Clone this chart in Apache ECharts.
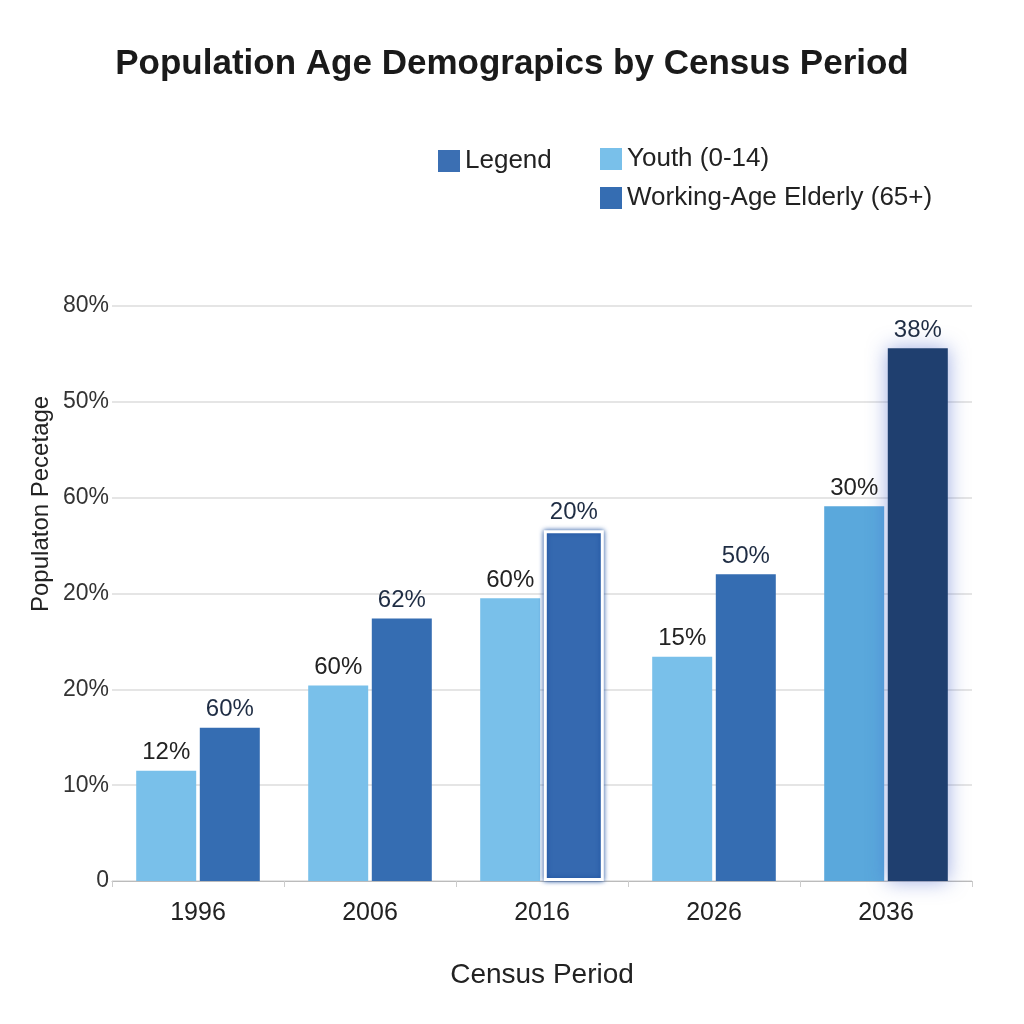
<!DOCTYPE html>
<html><head><meta charset="utf-8">
<script src="https://cdn.jsdelivr.net/npm/echarts@6/dist/echarts.min.js"></script>
<style>html,body{margin:0;padding:0;background:#fff}#c{width:1024px;height:1024px}</style>
</head><body><div id="c"></div>
<script>
// Data (bar heights in axis grid steps; the picture's tick labels are irregular)
const categories = ['1996', '2006', '2016', '2026', '2036'];
const yTickLabels = ['0', '10%', '20%', '20%', '60%', '50%', '80%'];
const youthValues = [1.15, 2.04, 2.95, 2.34, 3.91];
const elderlyValues = [1.60, 2.74, 3.66, 3.20, 5.56];
const youthLabels = ['12%', '60%', '60%', '15%', '30%'];
const elderlyLabels = ['60%', '62%', '20%', '50%', '38%'];

const FONT = '"Liberation Sans", Arial, sans-serif';
const chart = echarts.init(document.getElementById('c'));

const youthData = youthValues.map((v, i) => {
  const d = { value: v };
  if (i === 4) d.itemStyle = { color: '#5aa8dc' };
  return d;
});
const elderlyData = elderlyValues.map((v, i) => {
  const d = { value: v };
  if (i === 2) d.itemStyle = { color: '#3569b0', borderColor: '#ffffff', borderWidth: 3, shadowColor: '#1d4f9e', shadowBlur: 5 };
  if (i === 4) d.itemStyle = { color: '#1f3f6f', shadowColor: 'rgba(60,90,200,0.5)', shadowBlur: 20 };
  return d;
});

chart.setOption({
  animation: false,
  backgroundColor: '#ffffff',
  title: {
    text: 'Population Age Demograpics by Census Period',
    left: 'center', top: 42,
    textStyle: { fontFamily: FONT, fontSize: 35, fontWeight: 'bold', color: '#1a1a1a' }
  },
  legend: [
    {
      data: ['Legend'], left: 433, top: 143, itemWidth: 22, itemHeight: 22, itemGap: 8, icon: 'rect',
      textStyle: { fontFamily: FONT, fontSize: 26, color: '#222' }, selectedMode: false
    },
    {
      data: ['Youth (0-14)', 'Working-Age Elderly (65+)'], orient: 'vertical', left: 595, top: 141,
      itemWidth: 22, itemHeight: 22, itemGap: 13, icon: 'rect',
      textStyle: { fontFamily: FONT, fontSize: 26, color: '#222' }, selectedMode: false
    }
  ],
  grid: { left: 112, right: 52, top: 306, bottom: 143, containLabel: false },
  xAxis: {
    type: 'category', data: categories,
    axisLine: { lineStyle: { color: '#bbbbbb' } },
    axisTick: { show: true, alignWithLabel: false, lineStyle: { color: '#cccccc' }, length: 6 },
    axisLabel: { fontFamily: FONT, fontSize: 25, color: '#222', margin: 20 },
    name: 'Census Period', nameLocation: 'middle', nameGap: 80,
    nameTextStyle: { fontFamily: FONT, fontSize: 28, color: '#222' }
  },
  yAxis: {
    type: 'value', min: 0, max: 6, interval: 1,
    axisLine: { show: false }, axisTick: { show: false },
    splitLine: { lineStyle: { color: '#dddddd', width: 1.5 } },
    axisLabel: {
      fontFamily: FONT, fontSize: 23, color: '#333', margin: 3,
      formatter: v => yTickLabels[Math.round(v)]
    }
  },
  graphic: [{
    type: 'text', rotation: Math.PI / 2, x: 29, y: 612,
    style: { text: 'Populaton Pecetage', fontFamily: FONT, fontSize: 24, fill: '#222' }
  }],
  series: [
    {
      name: 'Legend', type: 'bar', data: [], itemStyle: { color: '#3b6fb3' }
    },
    {
      name: 'Youth (0-14)', type: 'bar', data: youthData, barWidth: 60, barGap: '6%',
      itemStyle: { color: '#79c0ea' },
      label: { show: true, position: 'top', distance: 6, fontFamily: FONT, fontSize: 24, color: '#222',
        formatter: p => youthLabels[p.dataIndex] }
    },
    {
      name: 'Working-Age Elderly (65+)', type: 'bar', data: elderlyData, barWidth: 60,
      itemStyle: { color: '#356db2' },
      label: { show: true, position: 'top', distance: 6, fontFamily: FONT, fontSize: 24, color: '#1f2d44',
        formatter: p => elderlyLabels[p.dataIndex] }
    }
  ]
});
</script></body></html>
